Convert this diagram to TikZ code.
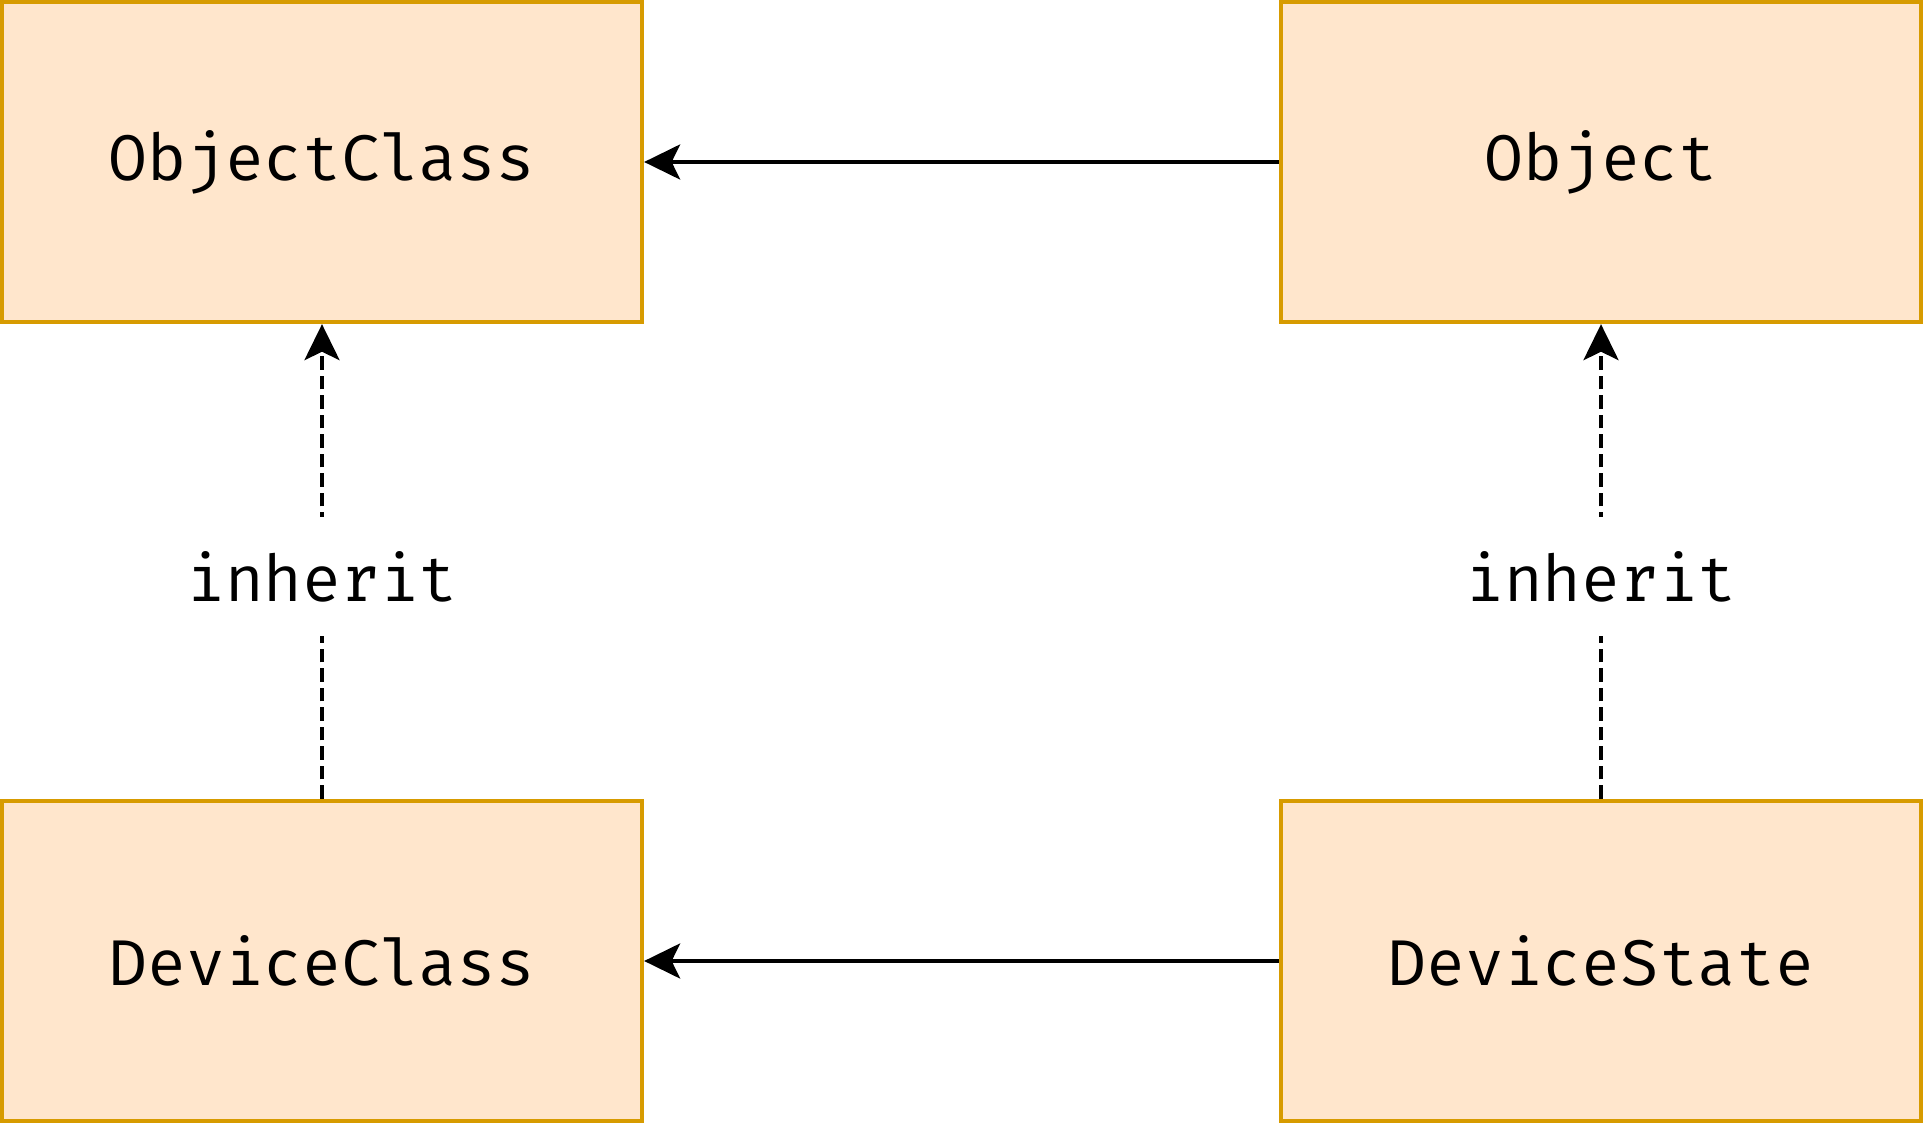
\documentclass[tikz,border=0pt]{standalone}
\usepackage{fontspec}
\setmonofont{Fira Mono}
\usetikzlibrary{arrows.meta}
\definecolor{boxfill}{HTML}{FFE6CC}
\definecolor{boxline}{HTML}{D79B00}

\begin{document}
\begin{tikzpicture}[x=0.02cm, y=-0.02cm,
        box/.style={draw=boxline, fill=boxfill, line width=2.5pt, minimum width=12.8cm, minimum height=6.4cm, font=\ttfamily\fontsize{36.8}{44}\selectfont},
        uses/.style={line width=2.4pt, -{Stealth[length=0.72cm, width=0.7cm, inset=0.17cm]}},
        inh/.style={uses, dash pattern=on 0.27cm off 0.12cm},
        lbl/.style={fill=white, inner xsep=2pt, inner ysep=0.68cm, font=\ttfamily\fontsize{36.8}{44}\selectfont}]
            \useasboundingbox (0, 0) rectangle (1924, 1124);
            \node[box] (oc) at (322, 162) {ObjectClass};
            \node[box] (obj) at (1601, 162) {Object};
            \node[box] (dc) at (322, 961) {DeviceClass};
            \node[box] (ds) at (1601, 961) {DeviceState};
            \draw[uses] (obj) -- (oc);
            \draw[uses] (ds) -- (dc);
            \draw[inh] (dc) -- node[lbl, pos=0.468] (inhL) {inherit} (oc);
            \draw[inh] (ds) -- node[lbl, pos=0.468] (inhR) {inherit} (obj);
        \end{tikzpicture}
\end{document}
